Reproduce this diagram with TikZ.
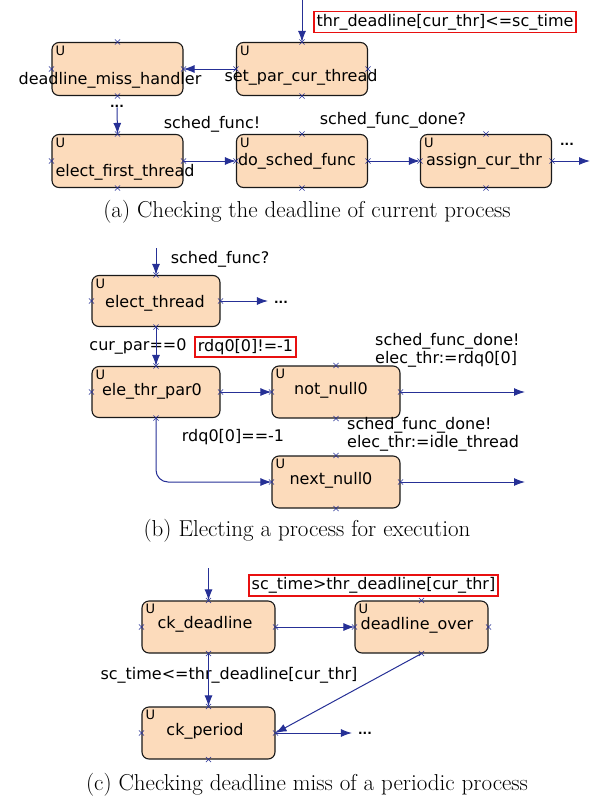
\documentclass[tikz,border=0pt]{standalone}
\usepackage{fontspec}
\newfontfamily\uppaalfont{DejaVu Sans}
\usepackage{tikz}
\usetikzlibrary{shapes,arrows.meta}
\usetikzlibrary{positioning,calc}

\definecolor{stateFill}{RGB}{252,219,187}
\definecolor{edgeBlue}{RGB}{38,48,150}
\definecolor{guardRed}{RGB}{232,16,16}

\begin{document}
\begin{tikzpicture}[x=1pt,y=-1pt,every text node part/.style={align=left}]
\tikzset{myFont/.style={font=\uppaalfont\fontsize{16}{18}\selectfont,inner sep=0pt}}
\tikzset{myDots/.style={font=\uppaalfont\bfseries\fontsize{12}{12}\selectfont,inner sep=0pt}}
\tikzset{myU/.style={font=\uppaalfont\fontsize{13}{13}\selectfont,anchor=north west,inner sep=0pt,xshift=4pt,yshift=-3.5pt}}
\tikzset{myBox/.style={draw=black!90,fill=stateFill,rounded corners=7pt,line width=1.1pt,minimum width=131pt,minimum height=53pt,inner sep=0pt,label={[myU]north west:U}}}
\tikzset{myMark/.style={cross out,draw=edgeBlue,line width=0.6pt,minimum size=4.5pt,inner sep=0pt}}
\tikzset{myArrow/.style={draw=edgeBlue,line width=1pt,-{Latex[length=11pt,width=8pt]}}}
\tikzset{myGuard/.style={myFont,draw=guardRed,line width=1.8pt,inner sep=2.5pt}}
\tikzset{myCap/.style={font=\fontsize{23}{27}\selectfont}}

\useasboundingbox (0,0) rectangle (591,796);

% (a) deadline of the current process
\node[myBox] (dmh) at (117.5,69) {};
\node[myBox] (spc) at (302,69) {};
\node[myBox] (eft) at (117.5,161) {};
\node[myBox] (dsf) at (302,161) {};
\node[myBox] (act) at (486,161) {};

\node[myFont] (dmh-txt) at (110,80) {deadline\_miss\_handler};
\node[myFont] (spc-txt) at (301,77) {set\_par\_cur\_thread};
\node[myFont] (eft-txt) at (125,172) {elect\_first\_thread};
\node[myFont] (dsf-txt) at (297,161) {do\_sched\_func};
\node[myFont] (act-txt) at (484,161) {assign\_cur\_thr};

\coordinate (inA) at (302,0);
\coordinate (outA) at (590,161);
\node[myDots] (dotsA1) at (117,106) {...};
\node[myDots] (dotsA2) at (567,144) {...};
\node[myGuard] (guardA) at (445,22) {thr\_deadline[cur\_thr]<=sc\_time};
\node[myFont] (syncA1) at (212,124) {sched\_func!};
\node[myFont] (syncA2) at (393,120) {sched\_func\_done?};

\draw[myArrow] (inA) -- (spc.north);
\draw[myArrow] (spc.west) -- (dmh.east);
\draw[myArrow] (dotsA1.south) -- (eft.north);
\draw[myArrow] (eft.east) -- (dsf.west);
\draw[myArrow] (dsf.east) -- (act.west);
\draw[myArrow] (act.east) -- (outA);

\node[myCap] (capA) at (307,212) {(a) Checking the deadline of current process};

% (b) electing a process
\node[myBox,minimum width=128pt,minimum height=51pt] (et) at (156,301) {};
\node[myBox,minimum width=128pt,minimum height=51pt] (etp) at (156,392) {};
\node[myBox,minimum width=128pt,minimum height=52pt] (nn) at (336,392) {};
\node[myBox,minimum width=128pt,minimum height=52pt] (nx) at (336,482) {};

\node[myFont] (et-txt) at (155,303) {elect\_thread};
\node[myFont] (etp-txt) at (152,391) {ele\_thr\_par0};
\node[myFont] (nn-txt) at (331,390) {not\_null0};
\node[myFont] (nx-txt) at (331,480) {next\_null0};

\coordinate (inB) at (156,248);
\coordinate (outB1) at (525,392);
\coordinate (outB2) at (525,482);
\node[myDots] (dotsB) at (281,302) {...};
\node[myFont] (syncB) at (220,259) {sched\_func?};
\node[myFont] (guardB1) at (138,346) {cur\_par==0};
\node[myGuard] (guardB2) at (245.5,347) {rdq0[0]!=-1};
\node[myFont] (guardB3) at (233,437) {rdq0[0]==-1};
\node[myFont,anchor=west] (updB1) at (375,350) {sched\_func\_done!\\elec\_thr:=rdq0[0]};
\node[myFont,anchor=west] (updB2) at (347,434) {sched\_func\_done!\\elec\_thr:=idle\_thread};

\draw[myArrow] (inB) -- (et.north);
\draw[myArrow] (et.east) -- ([xshift=-6pt]dotsB.west |- et.east);
\draw[myArrow] (et.south) -- (etp.north);
\draw[myArrow] (etp.east) -- (nn.west);
\draw[myArrow,rounded corners=12pt] (etp.south) |- (nx.west);
\draw[myArrow] (nn.east) -- (outB1);
\draw[myArrow] (nx.east) -- (outB2);

\node[myCap] (capB) at (307,531) {(b) Electing a process for execution};

% (c) deadline miss of a periodic process
\node[myBox,minimum width=133pt,minimum height=52pt] (ckd) at (208.5,627) {};
\node[myBox,minimum width=133pt,minimum height=52pt] (dov) at (421.5,627) {};
\node[myBox,minimum width=133pt,minimum height=52pt] (ckp) at (208.5,733) {};

\node[myFont] (ckd-txt) at (205,624) {ck\_deadline};
\node[myFont] (dov-txt) at (417,625) {deadline\_over};
\node[myFont] (ckp-txt) at (205,731) {ck\_period};

\coordinate (inC) at (208.5,568);
\node[myDots] (dotsC) at (365,733) {...};
\node[myGuard] (guardC1) at (373.5,585.5) {sc\_time>thr\_deadline[cur\_thr]};
\node[myFont] (guardC2) at (229,675) {sc\_time<=thr\_deadline[cur\_thr]};

\draw[myArrow] (inC) -- (ckd.north);
\draw[myArrow] (ckd.east) -- (dov.west);
\draw[myArrow] (ckd.south) -- (ckp.north);
\draw[myArrow] (dov.south) -- (ckp.east);
\draw[myArrow] (ckp.east) -- ([xshift=-6pt]dotsC.west |- ckp.east);

\node[myCap] (capC) at (307,785) {(c) Checking deadline miss of a periodic process};

% little crosses on the locations
\foreach \b in {dmh,spc,eft,dsf,act,et,etp,nn,nx,ckd,dov,ckp}
  \foreach \a in {north,south,east,west}
    \node[myMark] (\b-\a) at (\b.\a) {};

\end{tikzpicture}
\end{document}
